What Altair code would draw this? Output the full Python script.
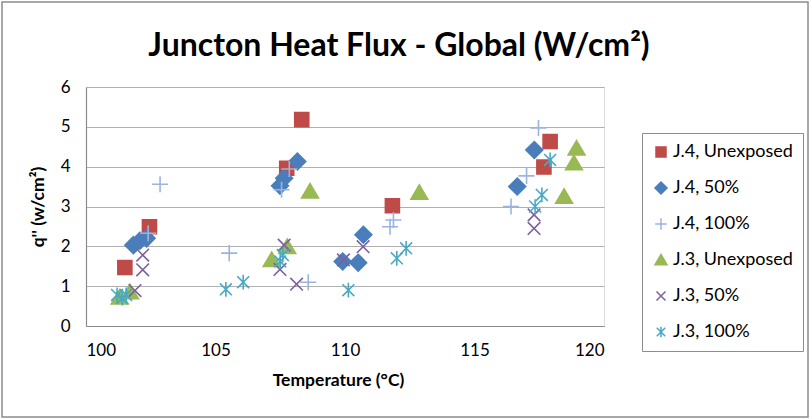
import altair as alt
import pandas as pd

# Series labels (legend order)
series_names = [
    "J.4, Unexposed",
    "J.4, 50%",
    "J.4, 100%",
    "J.3, Unexposed",
    "J.3, 50%",
    "J.3, 100%",
]

# Junction temperature (°C) and heat flux q'' (W/cm²) per series
j4_unexp_t = [101.50, 102.45, 107.75, 108.33, 111.83, 117.68, 117.92]
j4_unexp_q = [1.47, 2.49, 3.96, 5.18, 3.02, 3.99, 4.63]

j4_50_t = [101.83, 102.08, 102.34, 107.49, 107.65, 108.16, 109.91, 110.51, 110.71, 116.65, 117.31]
j4_50_q = [2.03, 2.14, 2.20, 3.52, 3.71, 4.13, 1.62, 1.59, 2.29, 3.50, 4.42]

j4_100_t = [102.86, 102.40, 105.53, 107.55, 107.85, 108.58, 111.74, 111.87, 116.41, 117.01, 117.47]
j4_100_q = [3.56, 2.33, 1.83, 3.42, 3.94, 1.10, 2.49, 2.66, 3.00, 3.77, 4.97]

j3_unexp_t = [101.30, 101.70, 107.17, 107.77, 108.65, 112.87, 118.46, 118.84, 118.94]
j3_unexp_q = [0.72, 0.85, 1.66, 1.99, 3.38, 3.35, 3.25, 4.09, 4.46]

j3_50_t = [101.89, 102.19, 102.19, 107.49, 107.65, 108.13, 109.94, 110.70, 117.30, 117.30]
j3_50_q = [0.89, 1.41, 1.78, 1.42, 2.03, 1.05, 1.66, 1.99, 2.45, 2.79]

j3_100_t = [101.20, 101.40, 101.55, 105.40, 106.07, 107.50, 107.60, 110.13, 112.00, 112.36, 117.34, 117.60, 117.92]
j3_100_q = [0.78, 0.70, 0.78, 0.92, 1.10, 1.62, 1.78, 0.90, 1.70, 1.95, 3.00, 3.29, 4.17]

x_ticks = [100, 105, 110, 115, 120]
y_ticks = [0, 1, 2, 3, 4, 5, 6]

series_colors = ["#BE4B48", "#4A7EBB", "#9DB3DF", "#98B954", "#7D60A0", "#46AAC5"]

# Marker outlines in unit coordinates (scaled by sqrt(size)/2)
SQUARE = "M-1,-1L1,-1L1,1L-1,1Z"
DIAMOND = "M-1.2,0L0,-1.2L1.2,0L0,1.2Z"
PLUS = "M-1.15,0L1.15,0M0,-1.15L0,1.15"
TRIANGLE = "M0,-1.1L1.2,0.95L-1.2,0.95Z"
XMARK = "M-0.9,-0.9L0.9,0.9M-0.9,0.9L0.9,-0.9"
STAR = "M-0.85,-0.85L0.85,0.85M-0.85,0.85L0.85,-0.85M0,-1.05L0,1.05"
series_shapes = [SQUARE, DIAMOND, PLUS, TRIANGLE, XMARK, STAR]

rows = []
for name, ts, qs in zip(
    series_names,
    [j4_unexp_t, j4_50_t, j4_100_t, j3_unexp_t, j3_50_t, j3_100_t],
    [j4_unexp_q, j4_50_q, j4_100_q, j3_unexp_q, j3_50_q, j3_100_q],
):
    for t, q in zip(ts, qs):
        rows.append({"series": name, "temp": t, "flux": q})
df = pd.DataFrame(rows)

FONT = "Lato"

legend = alt.Legend(
    title=None,
    orient="none",
    legendX=556,
    legendY=46,
    strokeColor="#8C8C8C",
    padding=10,
    rowPadding=18,
    labelFont=FONT,
    labelFontSize=18,
    labelColor="#000000",
    labelOffset=3,
    symbolSize=100,
    symbolStrokeWidth=1.5,
)

color_scale = alt.Scale(domain=series_names, range=series_colors)
shape_scale = alt.Scale(domain=series_names, range=series_shapes)

points = (
    alt.Chart(df)
    .mark_point(filled=True, strokeWidth=1.6, opacity=1, size=196)
    .encode(
        x=alt.X(
            "temp:Q",
            scale=alt.Scale(domain=[100, 120], nice=False, zero=False),
            axis=alt.Axis(
                values=x_ticks,
                grid=False,
                ticks=False,
                domainColor="#8C8C8C",
                domainWidth=1.2,
                labelFont=FONT,
                labelFontSize=17,
                labelColor="#000000",
                labelPadding=16,
                title="Temperature (°C)",
                titleFont=FONT,
                titleFontSize=17.5,
                titleFontWeight="bold",
                titleColor="#000000",
                titlePadding=13,
                titleX=252,
            ),
        ),
        y=alt.Y(
            "flux:Q",
            scale=alt.Scale(domain=[0, 6], nice=False),
            axis=alt.Axis(
                values=y_ticks,
                grid=True,
                gridColor="#B0B0B0",
                gridWidth=1.2,
                ticks=False,
                domainColor="#8C8C8C",
                domainWidth=1.2,
                labelFont=FONT,
                labelFontSize=17,
                labelColor="#000000",
                labelPadding=16,
                title="q'' (w/cm²)",
                titleFont=FONT,
                titleFontSize=17.5,
                titleFontWeight="bold",
                titleColor="#000000",
                titlePadding=13,
            ),
        ),
        color=alt.Color("series:N", scale=color_scale, sort=series_names, legend=legend),
        stroke=alt.Stroke("series:N", scale=color_scale, sort=series_names, legend=legend),
        shape=alt.Shape("series:N", scale=shape_scale, sort=series_names, legend=legend),
    )
)

# Outer frame around the whole figure
frame = (
    alt.Chart(pd.DataFrame({"k": [0]}))
    .mark_rect(fillOpacity=0, stroke="#8C8C8C", strokeWidth=1.5)
    .encode(
        x=alt.value(-84),
        x2=alt.value(722),
        y=alt.value(-85),
        y2=alt.value(330),
    )
)

chart = (
    alt.layer(points, frame)
    .properties(
        width=518,
        height=239,
        autosize=alt.AutoSizeParams(type="none"),
        padding={"left": 86, "top": 87, "right": 208, "bottom": 93},
        title=alt.TitleParams(
            text="Juncton Heat Flux - Global (W/cm²)",
            font=FONT,
            fontSize=32,
            fontWeight="bold",
            color="#000000",
            anchor="middle",
            dx=54,
            dy=84,
            offset=22,
        ),
    )
    .configure_view(stroke=None)
    .configure(background="#FFFFFF")
)

chart.save("out.html", embed_options={"renderer": "svg", "actions": False})
